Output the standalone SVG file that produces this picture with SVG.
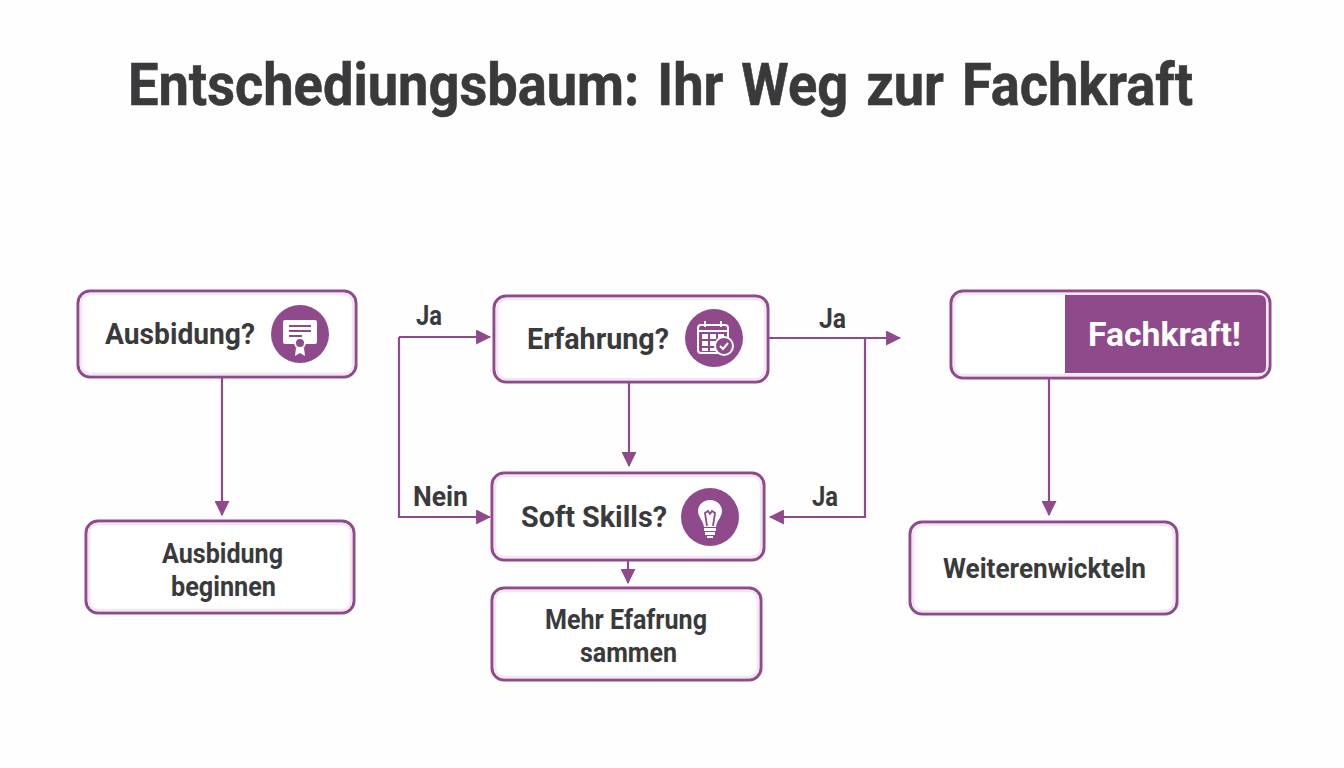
<svg xmlns="http://www.w3.org/2000/svg" width="1344" height="768" viewBox="0 0 1344 768">
<style>
text{font-family:Roboto,"Liberation Sans",sans-serif;font-weight:700;fill:#3a3a3c}
.box{fill:#fff;stroke:#8f4a8c;stroke-width:3}
.inner{fill:none;stroke:#f3e6f3;stroke-width:2.5}
.lbl{font-size:30px}
.sub{font-size:28px}
.edge{font-size:28px}
.conn{fill:none;stroke:#8f4a8c;stroke-width:2.2}
.ah{fill:#8f4a8c}
.ic{fill:none;stroke:#fff;stroke-width:2}
.ln{fill:none;stroke:#8f4a8c;stroke-width:1.8}
.disc{fill:#8f4a8c}
</style>
<defs>
<marker id="a" viewBox="0 0 14 14" refX="13" refY="7" markerWidth="15" markerHeight="15" markerUnits="userSpaceOnUse" orient="auto"><path class="ah" d="M0 0L14 7L0 14Z"/></marker>
</defs>
<rect width="1344" height="768" fill="#fefefe"/>
<text id="title" x="128" y="105" font-size="60" word-spacing="5" stroke="#3a3a3c" stroke-width="0.6" textLength="1065" lengthAdjust="spacingAndGlyphs">Entschediungsbaum: Ihr Weg zur Fachkraft</text>
<g id="connectors">
<path class="conn" marker-end="url(#a)" d="M222 378V515"/>
<path class="conn" marker-end="url(#a)" d="M629 382V466"/>
<path class="conn" marker-end="url(#a)" d="M628 561V583"/>
<path class="conn" marker-end="url(#a)" d="M1049 378V515"/>
<path class="conn" marker-end="url(#a)" d="M399 337H490"/>
<path class="conn" marker-end="url(#a)" d="M399 337V517H490"/>
<path class="conn" marker-end="url(#a)" d="M769 338H900"/>
<path class="conn" marker-end="url(#a)" d="M865 338V517H770"/>
<text class="edge" x="416" y="325" textLength="26" lengthAdjust="spacingAndGlyphs">Ja</text>
<text class="edge" x="413" y="506" textLength="55" lengthAdjust="spacingAndGlyphs">Nein</text>
<text class="edge" x="819" y="328" textLength="27" lengthAdjust="spacingAndGlyphs">Ja</text>
<text class="edge" x="812" y="506" textLength="26" lengthAdjust="spacingAndGlyphs">Ja</text>
</g>
<g id="node-ausbildung">
<rect class="box" x="78" y="291" width="278" height="86" rx="12"/>
<rect class="inner" x="81" y="294" width="272" height="80" rx="9"/>
<text class="lbl" x="105" y="344" textLength="150" lengthAdjust="spacingAndGlyphs">Ausbidung?</text>
<circle class="disc" cx="300" cy="334" r="29"/>
<path fill="#fff" d="M285 320H315Q317 320 317 322V342Q317 344 315 344H285Q283 344 283 342V322Q283 320 285 320Z"/>
<path class="ln" d="M289 326H311M289 331H311M289 336H302"/>
<circle cx="300" cy="343" r="5" fill="#8f4a8c" stroke="#fff" stroke-width="2"/>
<path fill="#fff" d="M296 348L295 356L300 353L305 356L304 348Z"/>
</g>
<g id="node-erfahrung">
<rect class="box" x="494" y="296" width="274" height="86" rx="12"/>
<rect class="inner" x="497" y="299" width="268" height="80" rx="9"/>
<text class="lbl" x="527" y="349" textLength="142" lengthAdjust="spacingAndGlyphs">Erfahrung?</text>
<circle class="disc" cx="714" cy="338" r="29"/>
<rect class="ic" x="698" y="325" width="30" height="28" rx="3"/>
<path class="ic" d="M698 331H728M705 321V327M721 321V327"/>
<path fill="#fff" d="M702 334H708V339H702ZM710 334H716V339H710ZM718 334H724V339H718ZM702 341H708V346H702ZM710 341H716V346H710ZM702 348H708V351H702ZM710 348H716V351H710Z"/>
<circle cx="724" cy="346" r="9" fill="#8f4a8c" stroke="#fff" stroke-width="2"/>
<path class="ic" d="M720 346L723 349L728 343"/>
</g>
<g id="node-softskills">
<rect class="box" x="492" y="473" width="272" height="87" rx="12"/>
<rect class="inner" x="495" y="476" width="266" height="81" rx="9"/>
<text class="lbl" x="521" y="527" textLength="146" lengthAdjust="spacingAndGlyphs">Soft Skills?</text>
<circle class="disc" cx="710" cy="517" r="29"/>
<path fill="#fff" d="M710 500C702 500 698 506 698 511C698 517 703 520 704 527H716C717 520 722 517 722 511C722 506 718 500 710 500Z"/>
<path class="ln" d="M707 526L705 513L708 511L710 514L712 511L715 513L713 526"/>
<path fill="#fff" d="M704 528H716V531H704ZM705 532H715V535H705ZM707 536H713V538H707Z"/>
</g>
<g id="node-fachkraft">
<rect class="box" x="951" y="291" width="319" height="87" rx="12"/>
<rect class="inner" x="954" y="294" width="313" height="81" rx="9"/>
<path fill="#8f4a8c" d="M1065 295H1259Q1266 295 1266 302V367Q1266 373 1259 373H1065Z"/>
<text x="1088" y="346" font-size="34" textLength="153" lengthAdjust="spacingAndGlyphs" style="fill:#fff">Fachkraft!</text>
</g>
<g id="node-ausbildung-beginnen">
<rect class="box" x="86" y="521" width="268" height="92" rx="12"/>
<rect class="inner" x="89" y="524" width="262" height="86" rx="9"/>
<text class="sub" x="162" y="563" textLength="121" lengthAdjust="spacingAndGlyphs">Ausbidung</text>
<text class="sub" x="171" y="596" textLength="105" lengthAdjust="spacingAndGlyphs">beginnen</text>
</g>
<g id="node-mehr">
<rect class="box" x="492" y="588" width="269" height="92" rx="12"/>
<rect class="inner" x="495" y="591" width="263" height="86" rx="9"/>
<text class="sub" x="545" y="629" textLength="162" lengthAdjust="spacingAndGlyphs">Mehr Efafrung</text>
<text class="sub" x="580" y="662" textLength="97" lengthAdjust="spacingAndGlyphs">sammen</text>
</g>
<g id="node-weiter">
<rect class="box" x="910" y="522" width="267" height="92" rx="12"/>
<rect class="inner" x="913" y="525" width="261" height="86" rx="9"/>
<text class="sub" x="943" y="578" textLength="203" lengthAdjust="spacingAndGlyphs">Weiterenwickteln</text>
</g>
</svg>
